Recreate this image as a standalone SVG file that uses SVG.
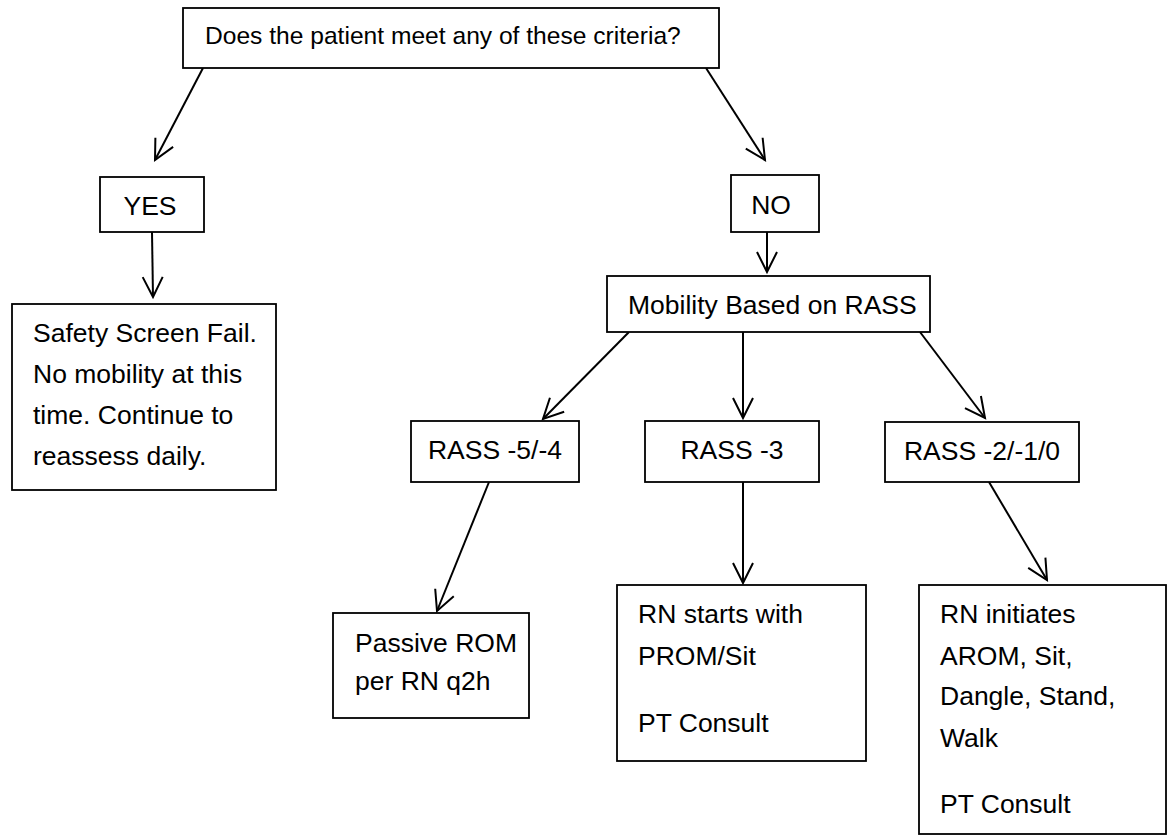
<svg xmlns="http://www.w3.org/2000/svg" width="1172" height="836" viewBox="0 0 1172 836">
<defs>
<style>
.box{fill:#fff;stroke:#000;stroke-width:1.8}
.t{font-family:"Liberation Sans",Arial,sans-serif;font-size:26.5px;fill:#000}
.tc{text-anchor:middle}
.c line{stroke:#000;stroke-width:2;marker-end:url(#arr)}
</style>
<marker id="arr" markerUnits="userSpaceOnUse" markerWidth="30" markerHeight="30" viewBox="-25 -15 30 30" refX="0" refY="0" orient="auto">
<path d="M-20,-10 L0,0 L-20,10" fill="none" stroke="#000" stroke-width="2"/>
</marker>
</defs>
<rect width="1172" height="836" fill="#fff"/>
<g id="connectors" class="c">
<line x1="203" y1="68" x2="155" y2="160"/>
<line x1="706" y1="68" x2="765" y2="160"/>
<line x1="152" y1="232" x2="153" y2="297"/>
<line x1="767" y1="232" x2="767" y2="272"/>
<line x1="629" y1="332" x2="543" y2="419"/>
<line x1="743" y1="332" x2="743" y2="418"/>
<line x1="920" y1="332" x2="985" y2="418"/>
<line x1="489" y1="482" x2="437" y2="611"/>
<line x1="743" y1="482" x2="743" y2="583"/>
<line x1="989" y1="482" x2="1047" y2="580"/>
</g>
<g id="n-question">
<rect class="box" x="183" y="8" width="536" height="60"/>
<text class="t" x="205" y="44" style="font-size:24.6px">Does the patient meet any of these criteria?</text>
</g>
<g id="n-yes">
<rect class="box" x="100" y="177" width="104" height="55"/>
<text class="t tc" x="150" y="215">YES</text>
</g>
<g id="n-no">
<rect class="box" x="731" y="175" width="88" height="57"/>
<text class="t tc" x="771" y="214">NO</text>
</g>
<g id="n-safety">
<rect class="box" x="12" y="304" width="264" height="186"/>
<text class="t" x="33" y="342">Safety Screen Fail.</text>
<text class="t" x="33" y="383">No mobility at this</text>
<text class="t" x="33" y="424">time. Continue to</text>
<text class="t" x="33" y="465">reassess daily.</text>
</g>
<g id="n-mobility">
<rect class="box" x="607" y="276" width="323" height="56"/>
<text class="t" x="628" y="314">Mobility Based on RASS</text>
</g>
<g id="n-rass54">
<rect class="box" x="411" y="421" width="168" height="61"/>
<text class="t tc" x="495" y="459">RASS -5/-4</text>
</g>
<g id="n-rass3">
<rect class="box" x="645" y="421" width="174" height="61"/>
<text class="t tc" x="732" y="459">RASS -3</text>
</g>
<g id="n-rass210">
<rect class="box" x="885" y="422" width="194" height="60"/>
<text class="t tc" x="982" y="460">RASS -2/-1/0</text>
</g>
<g id="n-passive">
<rect class="box" x="333" y="613" width="196" height="105"/>
<text class="t" x="355" y="652">Passive ROM</text>
<text class="t" x="355" y="690">per RN q2h</text>
</g>
<g id="n-rnstarts">
<rect class="box" x="617" y="585" width="249" height="176"/>
<text class="t" x="638" y="623">RN starts with</text>
<text class="t" x="638" y="665">PROM/Sit</text>
<text class="t" x="638" y="732">PT Consult</text>
</g>
<g id="n-rninit">
<rect class="box" x="919" y="585" width="247" height="249"/>
<text class="t" x="940" y="623">RN initiates</text>
<text class="t" x="940" y="665">AROM, Sit,</text>
<text class="t" x="940" y="705">Dangle, Stand,</text>
<text class="t" x="940" y="747">Walk</text>
<text class="t" x="940" y="813">PT Consult</text>
</g>
</svg>
